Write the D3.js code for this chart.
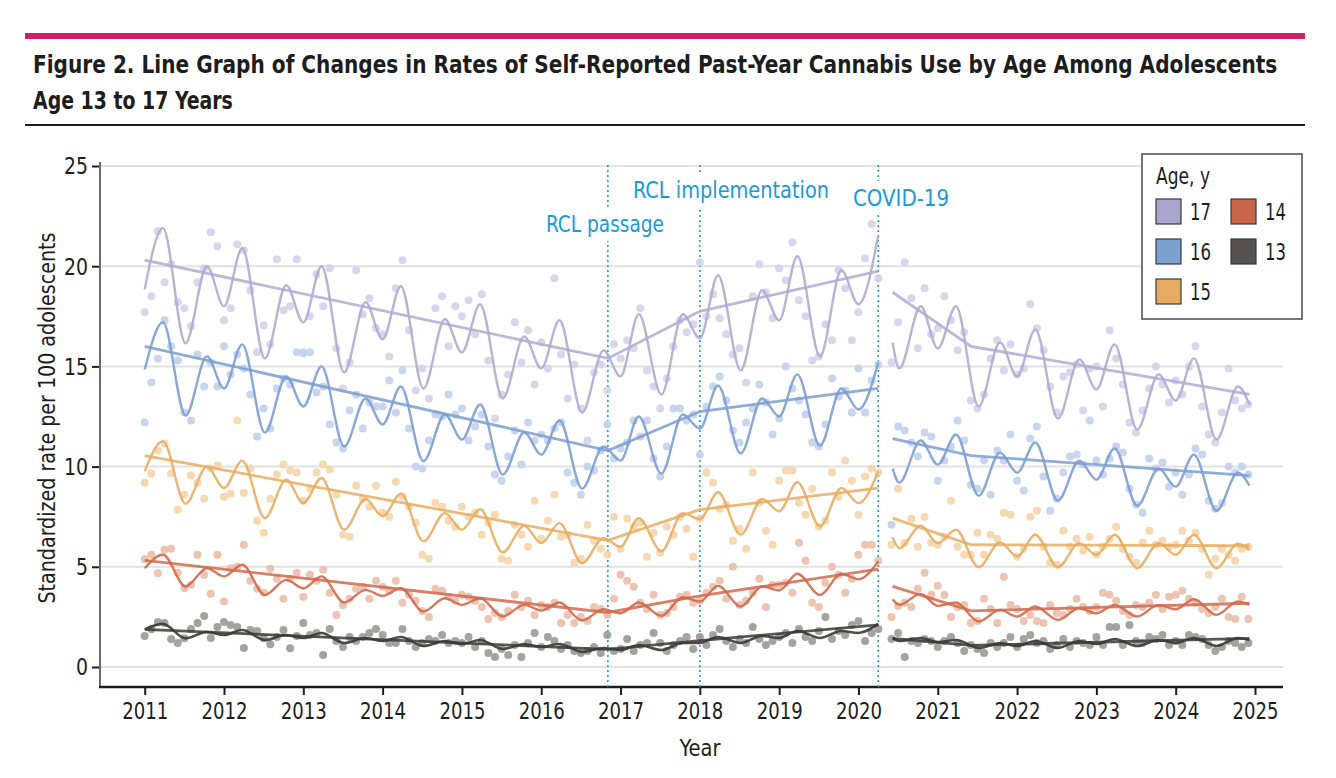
<!DOCTYPE html>
<html>
<head>
<meta charset="utf-8">
<script src="https://cdn.jsdelivr.net/npm/d3@7"></script>
<style>
  body { margin: 0; background: #fff; }
  text { font-family: "Liberation Sans Narrow", "DejaVu Sans Condensed", "DejaVu Sans", sans-serif; }
</style>
</head>
<body>
<svg id="chart" width="1336" height="778"></svg>
<script>
// ---- data ----
const ages = ["17", "16", "15", "14", "13"];
const yearTicks = [2011, 2012, 2013, 2014, 2015, 2016, 2017, 2018, 2019, 2020, 2021, 2022, 2023, 2024, 2025];
const rateTicks = [0, 5, 10, 15, 20, 25];

const events = [
  { label: "RCL passage", year: 2016.84 },
  { label: "RCL implementation", year: 2018.0 },
  { label: "COVID-19", year: 2020.25 }
];

// monthly observed rates, Jan 2011 .. Dec 2024 (May 2020 missing)
const pts17 = [
  17.7, 18.5, 21.75, 19.2, 20.1, 18.2, 17.9, 17.0, 19.2, 19.9, 21.7, 21.0,
  17.3, 17.9, 21.1, 20.8, 18.8, 15.7, 17.05, 16.1, 20.35, 17.8, 18.0, 20.35,
  15.65, 17.5, 19.6, 18.0, 19.9, 15.9, 13.9, 15.2, 19.8, 17.6, 18.4, 16.9,
  16.6, 15.5, 18.9, 20.3, 16.8, 13.8, 14.9, 13.4, 17.9, 18.5, 16.0, 18.0,
  17.5, 18.3, 16.6, 18.6, 15.3, 12.4, 13.6, 14.6, 17.2, 15.2, 16.8, 14.1,
  16.2, 14.9, 19.4, 15.6, 13.4, 15.1, 12.9, 11.3, 14.7, 15.1, 13.8, 16.1,
  15.4, 16.3, 15.9, 17.9, 14.8, 14.0, 12.9, 14.4, 16.0, 17.3, 16.7, 17.1,
  20.2, 17.5, 18.6, 17.4, 16.6, 15.6, 15.9, 14.2, 18.5, 20.1, 18.7, 17.4,
  19.9, 19.3, 21.2, 18.3, 17.5, 15.3, 15.5, 17.1, 16.3, 19.8, 18.9, 16.3,
  17.7, 20.4, 22.1, 19.4, null, 15.2, 17.2, 20.2, 18.4, 15.9, 18.9, 16.6,
  16.9, 18.5, 17.3, 15.8, 16.7, 13.3, 12.9, 13.6, 15.4, 16.3, 14.8, 16.1,
  14.6, 14.9, 18.1, 16.9, 15.8, 14.0, 12.7, 14.5, 14.7, 15.1, 12.8, 14.9,
  15.0, 13.0, 16.8, 15.4, 14.1, 12.2, 11.7, 12.8, 13.9, 15.0, 14.1, 13.2,
  14.3, 13.6, 15.0, 16.0, 13.0, 11.6, 11.2, 12.7, 14.9, 13.3, 12.9, 13.1
];
const pts16 = [
  12.2, 14.2, 15.4, 17.3, 16.0, 15.3, 12.7, 12.3, 15.6, 14.0, 15.2, 14.0,
  16.0, 14.6, 15.6, 14.9, 13.6, 11.5, 12.9, 11.9, 13.9, 14.4, 14.1, 15.7,
  15.7, 15.7, 13.7, 14.0, 12.1, 11.2, 10.9, 12.8, 13.6, 11.9, 13.2, 13.0,
  13.0, 14.3, 12.7, 14.8, 11.9, 10.0, 9.9, 11.3, 12.6, 12.5, 13.6, 12.6,
  12.9, 11.3, 12.0, 12.6, 11.0, 9.6, 9.3, 10.5, 11.8, 10.1, 12.2, 11.3,
  11.6, 11.3, 11.9, 12.2, 9.7, 9.2, 8.6, 10.0, 9.8, 10.8, 12.1, 10.4,
  10.9, 11.2, 12.3, 11.5, 12.3, 10.4, 9.5, 11.0, 12.9, 12.9, 12.3, 12.6,
  10.6, 13.0, 14.0, 14.5, 13.3, 11.8, 11.2, 12.2, 12.9, 14.1, 13.2, 11.6,
  12.4, 15.0, 13.9, 13.3, 12.6, 11.2, 11.0, 12.1, 14.4, 13.5, 13.8, 12.7,
  14.9, 12.7, 14.3, 15.1, null, 7.1, 12.0, 11.8, 11.2, 10.5, 11.7, 11.5,
  9.3, 10.3, 11.0, 12.3, 11.3, 9.1, 8.9, 10.3, 8.6, 10.8, 10.3, 11.6,
  9.3, 8.8, 11.4, 12.0, 9.5, 7.8, 8.4, 9.7, 10.5, 10.6, 10.1, 12.3,
  10.3, 9.6, 10.4, 11.0, 10.7, 8.9, 8.1, 7.7, 10.4, 9.9, 10.2, 9.0,
  9.7, 8.6, 9.6, 10.9, 10.6, 8.3, 7.9, 8.2, 10.0, 9.7, 10.0, 9.6
];
const pts15 = [
  9.2, 9.65, 10.8, 11.15, 9.65, 7.85, 8.6, 9.55, 9.2, 8.4, 9.9, 10.05,
  8.5, 8.65, 12.3, 8.7, 9.9, 7.3, 6.7, 8.4, 9.6, 10.1, 9.8, 9.7,
  8.3, 8.9, 9.7, 10.1, 9.85, 8.6, 6.6, 6.5, 9.05, 8.4, 8.0, 9.05,
  7.7, 7.5, 9.25, 8.5, 8.0, 7.2, 5.6, 5.4, 8.2, 8.0, 7.3, 7.0,
  8.0, 7.5, 7.7, 6.6, 7.2, 7.6, 5.4, 5.3, 7.1, 6.6, 6.0, 8.3,
  6.4, 7.3, 8.6, 6.5, 6.6, 5.2, 5.4, 7.1, 6.3, 5.9, 5.6, 7.5,
  5.9, 7.4, 7.0, 7.2, 5.5, 6.7, 5.7, 7.0, 6.6, 7.5, 6.9, 5.5,
  7.4, 9.7, 9.2, 7.9, 8.1, 6.3, 6.9, 5.9, 9.7, 8.2, 6.8, 6.1,
  9.3, 9.8, 9.8, 8.2, 7.6, 8.9, 7.0, 7.3, 9.7, 8.5, 10.3, 9.3,
  7.6, 9.5, 9.9, 9.7, null, 6.1, 8.9, 6.2, 7.4, 6.0, 7.5, 6.2,
  6.1, 6.5, 8.3, 6.0, 5.6, 5.6, 6.7, 5.6, 6.6, 6.4, 7.7, 7.6,
  5.5, 5.9, 7.5, 7.8, 6.0, 5.2, 5.1, 6.8, 6.0, 6.4, 5.8, 6.5,
  5.6, 6.0, 6.4, 7.0, 5.9, 5.5, 5.2, 6.2, 6.8, 6.1, 6.3, 6.0,
  6.1, 6.8, 6.3, 6.7, 5.9, 4.6, 5.4, 5.9, 5.6, 5.3, 5.9, 6.0
];
const pts14 = [
  5.38, 5.6, 4.68, 5.85, 5.9, 4.7, 3.93, 4.1, 5.6, 4.6, 3.65, 5.6,
  3.27, 4.93, 5.0, 6.1, 4.3, 3.9, 3.7, 4.9, 4.4, 3.4, 4.4, 4.7,
  3.5, 4.6, 4.3, 4.85, 3.7, 2.6, 3.1, 3.4, 3.9, 4.0, 3.4, 4.3,
  4.0, 3.8, 4.3, 3.2, 3.6, 3.3, 2.8, 2.5, 3.9, 3.8, 3.5, 3.3,
  3.6, 3.5, 3.3, 3.0, 2.4, 2.7, 2.5, 2.8, 3.6, 3.0, 3.3, 2.6,
  3.1, 3.0, 3.2, 2.2, 2.6, 2.2, 2.5, 2.3, 3.0, 2.9, 2.6, 3.4,
  4.6, 4.3, 4.0, 3.2, 2.9, 3.6, 2.6, 2.7, 3.0, 3.5, 3.6, 3.2,
  3.3, 3.7, 4.0, 4.3, 3.4, 5.0, 3.1, 3.3, 3.7, 4.4, 3.0, 4.1,
  4.1, 4.2, 3.7, 6.2, 5.3, 3.2, 3.0, 4.2, 5.0, 4.6, 3.7, 4.4,
  5.6, 6.1, 6.1, 5.3, null, 2.5, 3.05, 3.2, 3.0, 3.9, 4.7, 3.6,
  4.05, 3.6, 2.5, 3.0, 3.1, 2.2, 2.3, 3.4, 2.9, 2.2, 4.5, 3.1,
  2.9, 2.3, 2.6, 2.3, 2.2, 3.1, 2.7, 2.6, 2.9, 3.4, 3.0, 2.8,
  3.0, 3.7, 3.6, 3.3, 2.8, 2.6, 3.1, 3.0, 3.2, 3.6, 2.9, 3.5,
  3.6, 3.8, 3.4, 3.2, 2.9, 2.7, 3.0, 3.4, 2.5, 2.4, 3.5, 2.4
];
const pts13 = [
  1.55, 1.88, 2.25, 2.2, 1.4, 1.2, 1.43, 1.9, 2.2, 2.55, 1.45, 2.0,
  2.25, 2.1, 2.0, 0.95, 1.85, 1.8, 1.43, 1.13, 1.5, 1.85, 0.93, 1.55,
  2.2, 1.6, 1.7, 0.6, 1.9, 1.3, 1.0, 1.5, 1.3, 1.5, 1.7, 1.9,
  1.6, 1.2, 1.2, 1.9, 1.3, 1.0, 1.2, 1.4, 1.3, 1.6, 1.2, 1.3,
  1.2, 1.5, 1.0, 1.3, 0.7, 0.5, 0.9, 0.6, 1.1, 0.5, 1.2, 1.7,
  1.0, 1.5, 1.3, 0.9, 1.1, 0.8, 0.7, 0.8, 1.0, 0.7, 1.6, 0.8,
  0.9, 1.4, 0.8, 1.1, 1.2, 1.7, 1.2, 0.8, 1.1, 1.3, 1.5, 0.9,
  1.5, 1.1, 1.6, 1.9, 1.3, 1.0, 1.4, 1.2, 2.0, 1.4, 1.1, 1.3,
  1.5, 1.7, 1.2, 1.9, 1.5, 1.3, 1.8, 2.5, 1.4, 1.8, 1.6, 2.1,
  2.3, 1.3, 1.7, 1.9, null, 1.4, 1.7, 0.5, 1.3, 1.2, 1.4, 1.3,
  1.0, 1.3, 1.5, 1.2, 0.8, 1.1, 0.9, 0.7, 1.2, 1.0, 1.2, 1.5,
  1.0, 1.4, 1.6, 1.2, 1.3, 0.9, 1.1, 1.4, 1.0, 1.3, 1.2, 1.1,
  1.5, 1.1, 2.0, 2.0, 1.1, 2.1, 1.3, 1.2, 1.5, 1.4, 1.6, 1.1,
  1.3, 1.1, 1.6, 1.5, 1.4, 1.1, 0.8, 1.0, 1.3, 1.2, 1.0, 1.2
];

// seasonal fitted curve, read at its turning points
const waveTimesLeft = [
  2011, 2011.23, 2011.515, 2011.785, 2012, 2012.23, 2012.515, 2012.785,
  2013, 2013.23, 2013.515, 2013.785, 2014, 2014.23, 2014.515, 2014.785,
  2015, 2015.23, 2015.515, 2015.785, 2016, 2016.23, 2016.515, 2016.785,
  2017, 2017.23, 2017.515, 2017.785, 2018, 2018.23, 2018.515, 2018.785,
  2019, 2019.23, 2019.515, 2019.785, 2020, 2020.25
];
const waveTimesRight = [
  2020.43, 2020.515, 2020.785,
  2021, 2021.23, 2021.515, 2021.785, 2022, 2022.23, 2022.515, 2022.785,
  2023, 2023.23, 2023.515, 2023.785, 2024, 2024.23, 2024.515, 2024.785, 2024.93
];
const wave17L = [18.85, 21.9, 16.15, 20.0, 18.0, 20.9, 15.4, 19.05, 17.2, 20.0, 14.7, 18.2,
  16.35, 19.0, 13.9, 17.35, 15.7, 18.1, 13.4, 16.5, 14.9, 17.3, 12.7, 15.8,
  14.5, 17.6, 13.6, 17.6, 16.4, 19.55, 14.8, 18.8, 17.3, 20.5, 15.5, 19.8, 18.1, 21.55];
const wave17R = [16.2, 14.9, 18.0, 15.9, 18.0, 13.0, 16.2, 14.5, 16.85, 12.4, 15.35,
  13.85, 16.1, 11.85, 14.6, 13.3, 15.4, 11.35, 14.0, 13.1];
const wave16L = [14.85, 17.2, 12.55, 15.5, 13.9, 16.1, 11.7, 14.5, 13.0, 15.0, 11.0, 13.4,
  12.1, 14.0, 10.27, 12.6, 11.35, 13.1, 9.6, 11.7, 10.6, 12.3, 8.9, 11.0,
  10.3, 12.5, 9.65, 12.6, 11.9, 14.05, 10.65, 13.4, 12.5, 14.6, 11.05, 13.9, 12.85, 15.2];
const wave16R = [9.9, 9.2, 11.3, 10.1, 11.6, 8.55, 10.7, 9.7, 11.2, 8.3, 10.3,
  9.35, 10.9, 8.05, 9.9, 9.0, 10.6, 7.8, 9.7, 9.05];
const wave15L = [9.77, 11.27, 8.15, 10.0, 8.93, 10.3, 7.43, 9.35, 8.18, 9.43, 6.85, 8.38,
  7.52, 8.65, 6.27, 7.68, 6.85, 7.87, 5.72, 7.05, 6.18, 7.18, 5.18, 6.43,
  6.0, 7.43, 5.77, 7.68, 7.38, 8.72, 6.6, 8.38, 7.77, 9.22, 7.02, 8.93, 8.18, 9.77];
const wave15R = [6.48, 5.93, 7.05, 6.18, 6.85, 4.98, 6.22, 5.52, 6.6, 4.98, 6.18,
  5.6, 6.6, 4.93, 6.18, 5.6, 6.6, 4.93, 6.15, 5.85];
const wave14L = [4.93, 5.6, 4.02, 4.93, 4.52, 5.1, 3.6, 4.35, 3.93, 4.52, 3.22, 3.85,
  3.55, 3.93, 2.77, 3.43, 3.1, 3.43, 2.52, 3.1, 2.82, 3.22, 2.32, 2.88,
  2.68, 3.22, 2.55, 3.48, 3.27, 4.05, 3.02, 4.02, 3.82, 4.65, 3.6, 4.65, 4.38, 5.27];
const wave14R = [3.38, 3.1, 3.65, 3.05, 3.22, 2.27, 2.85, 2.52, 3.02, 2.35, 2.93,
  2.68, 3.1, 2.52, 3.1, 2.88, 3.38, 2.6, 3.27, 3.1];
const wave13L = [1.88, 2.15, 1.43, 1.75, 1.6, 1.85, 1.35, 1.6, 1.45, 1.7, 1.2, 1.45,
  1.3, 1.5, 1.05, 1.3, 1.15, 1.35, 0.9, 1.15, 1.0, 1.15, 0.75, 0.95,
  0.85, 1.1, 0.85, 1.2, 1.2, 1.5, 1.2, 1.55, 1.45, 1.8, 1.45, 1.8, 1.7, 2.15];
const wave13R = [1.45, 1.3, 1.45, 1.25, 1.35, 0.95, 1.2, 1.05, 1.3, 0.95, 1.3,
  1.15, 1.4, 1.05, 1.35, 1.2, 1.45, 1.05, 1.45, 1.35];

// segmented trend lines
const trendTimesLeft = [2011, 2016.84, 2018.0, 2020.25];
const trendTimesRight = [2020.43, 2021.42, 2024.93];
const trend17L = [20.3, 15.4, 17.75, 19.75], trend17R = [18.7, 16.0, 13.6];
const trend16L = [16.0, 10.8, 12.75, 13.9], trend16R = [11.4, 10.55, 9.55];
const trend15L = [10.55, 6.32, 7.85, 8.93], trend15R = [7.43, 6.1, 6.05];
const trend14L = [5.32, 2.72, 3.55, 4.88], trend14R = [4.02, 2.8, 3.18];
const trend13L = [1.88, 0.88, 1.32, 2.1], trend13R = [1.43, 1.08, 1.43];

const points = { "17": pts17, "16": pts16, "15": pts15, "14": pts14, "13": pts13 };
const waves = {
  "17": [wave17L, wave17R], "16": [wave16L, wave16R], "15": [wave15L, wave15R],
  "14": [wave14L, wave14R], "13": [wave13L, wave13R]
};
const trends = {
  "17": [trend17L, trend17R], "16": [trend16L, trend16R], "15": [trend15L, trend15R],
  "14": [trend14L, trend14R], "13": [trend13L, trend13R]
};

// ---- styles ----
const lineColor = { "17": "#aeabd3", "16": "#7a9dd1", "15": "#e8ad60", "14": "#d1694c", "13": "#3b3938" };
const dotColor = { "17": "#d4d2e9", "16": "#c1d2ec", "15": "#f5d5aa", "14": "#ebbca9", "13": "#9b9998" };
const swatchColor = { "17": "#a9a6ce", "16": "#7ca1d0", "15": "#e5ab60", "14": "#c9654b", "13": "#57524f" };
const ink = "#1d1d1d", eventBlue = "#1a9ad6";

// squeeze text to the width it has in the figure (condensed face not installed)
function squeeze(sel, w) {
  sel.attr("textLength", w).attr("lengthAdjust", "spacingAndGlyphs");
}
// long lines: scale horizontally so the box stays inside the page
function scaleTo(sel, x0, y0, w) {
  const len = sel.node().getComputedTextLength();
  sel.attr("x", 0).attr("y", 0).attr("transform", `translate(${x0},${y0}) scale(${w / len},1)`);
}

const svg = d3.select("#chart");

// header
svg.append("rect").attr("x", 25).attr("y", 33).attr("width", 1280).attr("height", 6).attr("fill", "#d11f66");
svg.append("text").attr("font-weight", 600).attr("font-size", 25).attr("fill", ink)
  .text("Figure 2. Line Graph of Changes in Rates of Self-Reported Past-Year Cannabis Use by Age Among Adolescents")
  .call(scaleTo, 33, 73, 1245);
svg.append("text").attr("font-weight", 600).attr("font-size", 25).attr("fill", ink)
  .text("Age 13 to 17 Years")
  .call(scaleTo, 33, 109, 200);
svg.append("rect").attr("x", 25).attr("y", 124).attr("width", 1280).attr("height", 2).attr("fill", ink);

// scales
const x = d3.scaleLinear().domain([2011, 2025]).range([144.7, 1255]);
const y = d3.scaleLinear().domain([0, 25]).range([667, 166]);
const plotLeft = 100, plotRight = 1283, plotBottom = 687, plotTop = 162;

// grid
svg.append("g").selectAll("line").data(rateTicks).enter().append("line")
  .attr("x1", plotLeft).attr("x2", plotRight)
  .attr("y1", d => y(d)).attr("y2", d => y(d))
  .attr("stroke", "#e2e2e2").attr("stroke-width", 2);

// axes
const yAxis = svg.append("g").attr("transform", `translate(${plotLeft},0)`)
  .call(d3.axisLeft(y).tickValues(rateTicks).tickSize(8).tickPadding(4));
const xAxis = svg.append("g").attr("transform", `translate(0,${plotBottom})`)
  .call(d3.axisBottom(x).tickValues(yearTicks).tickFormat(d3.format("d")).tickSize(8).tickPadding(4));
[yAxis, xAxis].forEach(a => {
  a.select(".domain").remove();
  a.selectAll(".tick line").attr("stroke", ink).attr("stroke-width", 2);
  a.selectAll(".tick text").attr("font-size", 23).attr("fill", ink).attr("font-family", null);
});
xAxis.selectAll(".tick text").attr("dy", "0.85em").each(function () { squeeze(d3.select(this), 46); });
yAxis.selectAll(".tick text").attr("dy", "0.34em")
  .each(function (d) { squeeze(d3.select(this), d >= 10 ? 24 : 12); });
svg.append("line").attr("x1", plotLeft).attr("x2", plotLeft).attr("y1", plotTop).attr("y2", plotBottom)
  .attr("stroke", "#6b6b6b").attr("stroke-width", 2);
svg.append("line").attr("x1", plotLeft - 1).attr("x2", plotRight).attr("y1", plotBottom).attr("y2", plotBottom)
  .attr("stroke", ink).attr("stroke-width", 2.5);

svg.append("text").attr("x", 700).attr("y", 756).attr("text-anchor", "middle")
  .attr("font-size", 23).attr("fill", ink).text("Year").call(squeeze, 41);
svg.append("text").attr("transform", "translate(47,418) rotate(-90)").attr("text-anchor", "middle")
  .attr("dy", "0.35em").attr("font-size", 23).attr("fill", ink)
  .text("Standardized rate per 100 adolescents").call(squeeze, 371);

// event lines
const ev = svg.append("g");
ev.selectAll("line").data(events).enter().append("line")
  .attr("x1", d => x(d.year)).attr("x2", d => x(d.year))
  .attr("y1", plotTop + 3).attr("y2", plotBottom)
  .attr("stroke", eventBlue).attr("stroke-width", 1.6).attr("stroke-dasharray", "2,3");

// observed points
const months = d3.range(168);
const dots = svg.append("g");
ages.forEach(a => {
  dots.append("g").selectAll("circle")
    .data(months.filter(i => points[a][i] != null))
    .enter().append("circle")
    .attr("cx", i => x(2011 + i / 12))
    .attr("cy", i => y(points[a][i]))
    .attr("r", 4)
    .attr("fill", dotColor[a]).attr("fill-opacity", 0.9);
});

// fitted lines
const waveLine = d3.line().x(d => x(d[0])).y(d => y(d[1])).curve(d3.curveMonotoneX);
const trendLine = d3.line().x(d => x(d[0])).y(d => y(d[1]));
const lines = svg.append("g").attr("fill", "none");
ages.slice().reverse().forEach(a => {
  const w = a === "13" ? 2.6 : 2.4;
  [[waveTimesLeft, waves[a][0]], [waveTimesRight, waves[a][1]]].forEach(([ts, vs]) => {
    lines.append("path").attr("d", waveLine(d3.zip(ts, vs)))
      .attr("stroke", lineColor[a]).attr("stroke-width", w).attr("stroke-opacity", 0.9);
  });
  [[trendTimesLeft, trends[a][0]], [trendTimesRight, trends[a][1]]].forEach(([ts, vs]) => {
    lines.append("path").attr("d", trendLine(d3.zip(ts, vs)))
      .attr("stroke", lineColor[a]).attr("stroke-width", 2.8).attr("stroke-opacity", 0.85);
  });
});

// event labels with white backing
const labelPos = [{ cx: 605, y: 232, w: 118 }, { cx: 731, y: 198, w: 196 }, { cx: 901, y: 206, w: 96 }];
events.forEach((d, i) => {
  const g = svg.append("g");
  const t = g.append("text").attr("x", labelPos[i].cx).attr("y", labelPos[i].y)
    .attr("text-anchor", "middle").attr("font-size", 23).attr("fill", eventBlue).text(d.label)
    .call(squeeze, labelPos[i].w);
  const b = t.node().getBBox();
  g.insert("rect", "text").attr("x", b.x - 3).attr("y", b.y - 4)
    .attr("width", b.width + 6).attr("height", b.height + 8).attr("fill", "#fff");
});

// legend
const lg = svg.append("g");
lg.append("rect").attr("x", 1142).attr("y", 154).attr("width", 160).attr("height", 165)
  .attr("fill", "#fff").attr("stroke", "#4a4a4a").attr("stroke-width", 1.5);
lg.append("text").attr("x", 1156).attr("y", 184).attr("font-size", 23).attr("fill", ink)
  .text("Age, y").call(squeeze, 54);
const legendSlots = [[1156, 199], [1156, 239], [1156, 279], [1231, 199], [1231, 239]];
ages.forEach((a, i) => {
  const [lx, ly] = legendSlots[i];
  lg.append("rect").attr("x", lx).attr("y", ly).attr("width", 25).attr("height", 25)
    .attr("fill", swatchColor[a]).attr("stroke", "#3a3a3a").attr("stroke-width", 1.2);
  lg.append("text").attr("x", lx + 34).attr("y", ly + 12.5).attr("dy", "0.36em")
    .attr("font-size", 23).attr("fill", ink).text(a).call(squeeze, 21);
});
</script>
</body>
</html>
